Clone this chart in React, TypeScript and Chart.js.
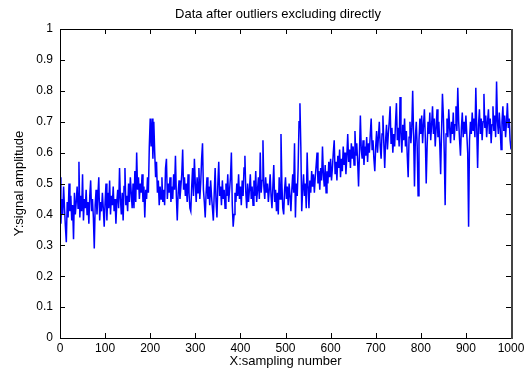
import React, { useEffect, useRef } from "react";
import { Chart, registerables } from "chart.js";

Chart.register(...registerables);

const TITLE = "Data after outliers excluding directly";
const X_LABEL = "X:sampling number";
const Y_LABEL = "Y:signal amplitude";
const SAMPLE_STEP = 2;

const seg0 = [0.52,0.37,0.45,0.40,0.49,0.42,0.36,0.31,0.44,0.39,0.50,0.41,0.46,0.38,0.43,0.32,0.47,0.40,0.44,0.49,0.42,0.57,0.39,0.46,0.41,0.53,0.38,0.45,0.42,0.48,0.40,0.44,0.37,0.46,0.51,0.41,0.45,0.39,0.29,0.43,0.48,0.40,0.46,0.52,0.38,0.44,0.41,0.47,0.42,0.36];
const seg1 = [0.44,0.50,0.38,0.47,0.42,0.51,0.40,0.46,0.43,0.49,0.41,0.45,0.37,0.44,0.48,0.42,0.55,0.45,0.40,0.47,0.38,0.49,0.55,0.43,0.46,0.41,0.50,0.44,0.52,0.47,0.42,0.50,0.42,0.54,0.44,0.60,0.48,0.52,0.45,0.50,0.47,0.53,0.44,0.49,0.39,0.48,0.45,0.52,0.47,0.62];
const seg2 = [0.71,0.62,0.71,0.58,0.70,0.60,0.52,0.57,0.47,0.51,0.43,0.49,0.45,0.52,0.44,0.48,0.43,0.55,0.58,0.45,0.50,0.47,0.52,0.44,0.49,0.45,0.53,0.48,0.59,0.46,0.38,0.47,0.51,0.45,0.49,0.53,0.61,0.48,0.52,0.46,0.50,0.44,0.53,0.47,0.42,0.41,0.49,0.55,0.46,0.58];
const seg3 = [0.50,0.44,0.52,0.47,0.55,0.45,0.50,0.58,0.63,0.48,0.44,0.39,0.47,0.52,0.45,0.49,0.43,0.51,0.46,0.42,0.38,0.47,0.55,0.44,0.39,0.50,0.57,0.46,0.49,0.43,0.51,0.45,0.48,0.42,0.50,0.46,0.53,0.44,0.48,0.52,0.60,0.43,0.36,0.40,0.47,0.44,0.50,0.46,0.53,0.45];
const seg4 = [0.49,0.43,0.51,0.46,0.55,0.59,0.47,0.42,0.50,0.44,0.48,0.53,0.45,0.49,0.43,0.51,0.46,0.54,0.44,0.48,0.52,0.45,0.60,0.47,0.51,0.64,0.49,0.45,0.52,0.47,0.50,0.44,0.48,0.53,0.46,0.42,0.49,0.56,0.44,0.48,0.41,0.47,0.40,0.52,0.45,0.66,0.50,0.42,0.40,0.48];
const seg5 = [0.52,0.45,0.49,0.43,0.50,0.46,0.41,0.48,0.53,0.47,0.63,0.39,0.50,0.46,0.55,0.70,0.76,0.62,0.41,0.48,0.53,0.46,0.50,0.42,0.60,0.49,0.42,0.51,0.47,0.54,0.49,0.53,0.47,0.52,0.56,0.60,0.50,0.54,0.48,0.55,0.51,0.62,0.53,0.49,0.56,0.47,0.54,0.50,0.57,0.52];
const seg6 = [0.58,0.51,0.55,0.60,0.64,0.53,0.57,0.51,0.59,0.55,0.61,0.52,0.58,0.54,0.62,0.56,0.60,0.53,0.59,0.66,0.57,0.61,0.55,0.63,0.58,0.62,0.56,0.67,0.59,0.63,0.57,0.49,0.60,0.72,0.61,0.58,0.64,0.56,0.62,0.59,0.65,0.57,0.63,0.60,0.66,0.71,0.61,0.64,0.58,0.54];
const seg7 = [0.62,0.67,0.60,0.65,0.70,0.62,0.58,0.66,0.72,0.63,0.55,0.64,0.69,0.61,0.66,0.70,0.75,0.63,0.68,0.60,0.66,0.62,0.70,0.76,0.64,0.68,0.62,0.78,0.66,0.60,0.69,0.64,0.71,0.62,0.67,0.59,0.52,0.65,0.70,0.63,0.68,0.80,0.66,0.49,0.65,0.70,0.62,0.46,0.64,0.71];
const seg8 = [0.66,0.72,0.63,0.69,0.74,0.65,0.50,0.62,0.70,0.66,0.73,0.64,0.69,0.75,0.66,0.71,0.62,0.68,0.74,0.65,0.70,0.63,0.53,0.67,0.79,0.72,0.60,0.43,0.66,0.71,0.65,0.74,0.68,0.63,0.70,0.66,0.73,0.64,0.69,0.75,0.67,0.81,0.70,0.64,0.59,0.68,0.73,0.65,0.70,0.66];
const seg9 = [0.72,0.66,0.60,0.36,0.64,0.70,0.66,0.73,0.67,0.71,0.65,0.81,0.68,0.55,0.69,0.74,0.66,0.71,0.64,0.70,0.79,0.68,0.72,0.65,0.70,0.74,0.66,0.71,0.63,0.69,0.75,0.67,0.72,0.65,0.83,0.70,0.66,0.73,0.68,0.61,0.70,0.75,0.67,0.72,0.65,0.70,0.76,0.68,0.71,0.64,0.61];

const signal = [...seg0, ...seg1, ...seg2, ...seg3, ...seg4, ...seg5, ...seg6, ...seg7, ...seg8, ...seg9];

const FONT = "'Liberation Sans', Arial, sans-serif";

const insideTicks = {
  id: "insideTicks",
  afterDatasetsDraw(chart: any) {
    const { ctx, chartArea, scales } = chart;
    const { left, right, top, bottom } = chartArea;
    const len = 5;
    ctx.save();
    ctx.strokeStyle = "#000";
    ctx.lineWidth = 1;
    ctx.beginPath();
    scales.x.ticks.forEach((t: any) => {
      const px = Math.round(scales.x.getPixelForValue(t.value)) + 0.5;
      ctx.moveTo(px, bottom);
      ctx.lineTo(px, bottom - len);
      ctx.moveTo(px, top);
      ctx.lineTo(px, top + len);
    });
    scales.y.ticks.forEach((t: any) => {
      const py = Math.round(scales.y.getPixelForValue(t.value)) + 0.5;
      ctx.moveTo(left, py);
      ctx.lineTo(left + len, py);
      ctx.moveTo(right, py);
      ctx.lineTo(right - len, py);
    });
    ctx.stroke();
    ctx.strokeRect(Math.round(left) + 0.5, Math.round(top) + 0.5, Math.round(right - left), Math.round(bottom - top));
    ctx.strokeStyle = "#444";
    ctx.lineWidth = 2;
    ctx.beginPath();
    ctx.moveTo(Math.round(right) + 1, top);
    ctx.lineTo(Math.round(right) + 1, bottom + 1);
    ctx.stroke();
    ctx.restore();
  },
};

const titlePlugin = {
  id: "plainTitle",
  afterDraw(chart: any) {
    const { ctx } = chart;
    ctx.save();
    ctx.fillStyle = "#000";
    ctx.font = `13px ${FONT}`;
    ctx.textAlign = "center";
    ctx.textBaseline = "middle";
    ctx.fillText(TITLE, 278, 14);
    ctx.restore();
  },
};

export default function App() {
  const ref = useRef<HTMLCanvasElement | null>(null);

  useEffect(() => {
    if (!ref.current) return;
    const data = signal.map((v, i) => ({ x: i * SAMPLE_STEP, y: v }));
    const chart = new Chart(ref.current, {
      type: "line",
      data: {
        datasets: [
          {
            data,
            borderColor: "#0000ff",
            borderWidth: 1.5,
            pointRadius: 0,
            tension: 0,
            fill: false,
          },
        ],
      },
      options: {
        responsive: false,
        animation: false,
        events: [],
        layout: { padding: { left: 0, top: 29, right: 21, bottom: 0 } },
        plugins: { legend: { display: false }, tooltip: { enabled: false }, title: { display: false } },
        scales: {
          x: {
            type: "linear",
            min: 0,
            max: 1000,
            grid: { display: false, drawTicks: false },
            border: { display: false },
            ticks: {
              stepSize: 100,
              padding: 3,
              color: "#000",
              font: { family: FONT, size: 12 },
              maxRotation: 0,
              autoSkip: false,
              callback: (v: any) => String(Math.round(Number(v))),
            },
            title: {
              display: true,
              text: X_LABEL,
              color: "#000",
              font: { family: FONT, size: 13 },
              padding: { top: 0, bottom: 0.5 },
            },
            afterFit: (s: any) => {
              s.height = 32;
            },
          },
          y: {
            type: "linear",
            min: 0,
            max: 1,
            grid: { display: false, drawTicks: false },
            border: { display: false },
            ticks: {
              stepSize: 0.1,
              padding: 7,
              color: "#000",
              font: { family: FONT, size: 12 },
              callback: (v: any) => String(Number(Number(v).toFixed(1))),
              autoSkip: false,
            },
            title: {
              display: true,
              text: Y_LABEL,
              color: "#000",
              font: { family: FONT, size: 13 },
              padding: { top: 12, bottom: 0 },
            },
            afterFit: (s: any) => {
              s.width = 60;
            },
          },
        },
      },
      plugins: [insideTicks, titlePlugin],
    });
    return () => chart.destroy();
  }, []);

  return (
    <div style={{ position: "fixed", left: 0, top: 0, width: 532, height: 370, background: "#fff" }}>
      <canvas ref={ref} width={532} height={370} />
    </div>
  );
}
